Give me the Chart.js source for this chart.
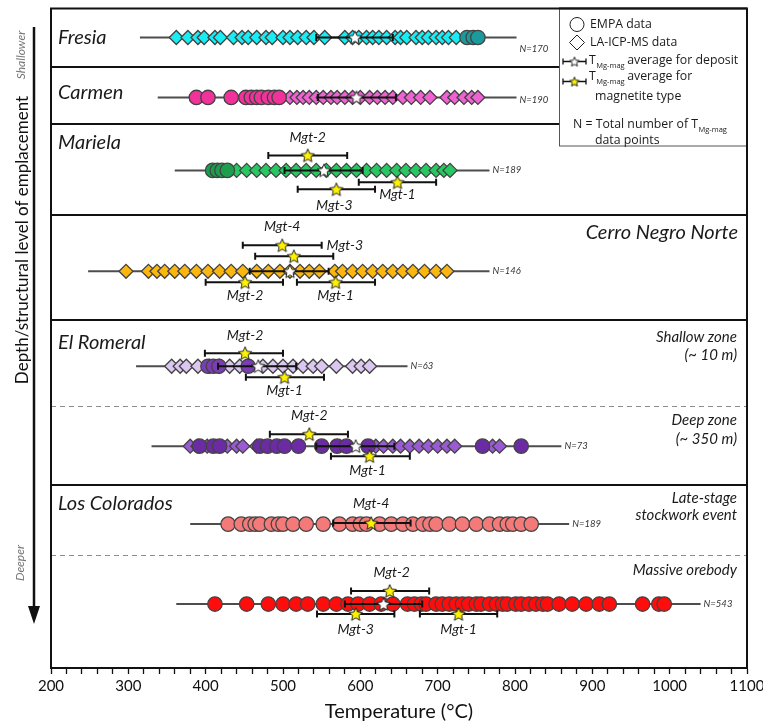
<!DOCTYPE html>
<html>
<head>
<meta charset="utf-8">
<script src="https://cdn.jsdelivr.net/npm/chart.js@4.4.0/dist/chart.umd.min.js"></script>
<style>
  body { margin: 0; background: #fff; }
  canvas { display: block; }
</style>
</head>
<body>
<canvas id="tempChart" width="763" height="725"></canvas>
<script>
// ---- data (temperatures in °C) ----
const tempTicks = [200, 300, 400, 500, 600, 700, 800, 900, 1000, 1100];

const fresiaEMPA = [738, 746, 752];
const fresiaLA = [362, 377, 390, 398, 412, 419, 436, 447, 455, 466, 478, 486, 500, 509, 519, 530, 540, 554, 580, 590, 598, 608, 616, 624, 634, 645, 652, 660, 672, 680, 688, 698, 706, 714, 724];
const fresiaRange = [315, 802];
const fresiaAvg = [593, 543, 642];
const fresiaN = 170;

const carmenEMPA = [388, 403, 433, 452, 459, 466, 472, 481, 489, 495];
const carmenLA = [509, 518, 526, 534, 543, 552, 562, 570, 580, 590, 600, 612, 622, 632, 642, 655, 666, 678, 690, 712, 722, 734, 744, 752];
const carmenRange = [338, 802];
const carmenAvg = [595, 545, 646];
const carmenN = 190;

const marielaEMPA = [409, 415, 421, 428];
const marielaLA = [440, 453, 466, 478, 491, 504, 517, 530, 543, 556, 569, 582, 595, 608, 621, 634, 647, 659, 672, 685, 698, 708, 716];
const marielaRange = [360, 767];
const marielaAvg = [553, 502, 603];
const marielaN = 189;
const marielaMgt = ['Mgt-2', 'Mgt-1', 'Mgt-3'];
const marielaMgtMean = [532, 648, 569];
const marielaMgtLow = [481, 598, 519];
const marielaMgtHigh = [583, 698, 619];

const cnnLA = [297, 326, 337, 347, 360, 373, 388, 403, 418, 433, 448, 466, 481, 496, 509, 522, 534, 547, 567, 577, 590, 603, 616, 629, 642, 655, 668, 683, 698, 712];
const cnnRange = [248, 767];
const cnnAvg = [509, 457, 559];
const cnnN = 146;
const cnnMgt = ['Mgt-4', 'Mgt-3', 'Mgt-2', 'Mgt-1'];
const cnnMgtMean = [499, 514, 451, 568];
const cnnMgtLow = [448, 464, 400, 518];
const cnnMgtHigh = [550, 565, 500, 619];

const romeralShallowEMPA = [403, 410, 417, 455];
const romeralShallowLA = [356, 367, 375, 390, 405, 418, 431, 444, 474, 487, 500, 513, 526, 539, 550, 569, 590, 601, 612];
const romeralShallowRange = [310, 661];
const romeralShallowAvg = [468, 416, 517];
const romeralShallowN = 63;
const romeralShallowMgt = ['Mgt-2', 'Mgt-1'];
const romeralShallowMgtMean = [451, 502];
const romeralShallowMgtLow = [399, 452];
const romeralShallowMgtHigh = [500, 553];

const romeralDeepEMPA = [392, 410, 418, 470, 480, 492, 502, 520, 550, 570, 582, 610, 758, 808];
const romeralDeepLA = [380, 390, 402, 428, 440, 448, 466, 620, 630, 642, 652, 664, 676, 688, 700, 712, 722, 771, 780];
const romeralDeepRange = [330, 860];
const romeralDeepAvg = [594, 543, 644];
const romeralDeepN = 73;
const romeralDeepMgt = ['Mgt-2', 'Mgt-1'];
const romeralDeepMgtMean = [534, 612];
const romeralDeepMgtLow = [483, 562];
const romeralDeepMgtHigh = [584, 664];

const coloradosLateEMPA = [429, 446, 457, 464, 470, 485, 494, 500, 513, 530, 552, 573, 590, 600, 608, 625, 640, 655, 668, 681, 690, 698, 715, 732, 750, 767, 780, 790, 797, 808, 821];
const coloradosLateRange = [380, 870];
const coloradosLateN = 189;
const coloradosLateMgt = ['Mgt-4'];
const coloradosLateMgtMean = [614];
const coloradosLateMgtLow = [565];
const coloradosLateMgtHigh = [665];

const coloradosMassiveEMPA = [412, 453, 481, 500, 517, 532, 552, 569, 584, 597, 612, 627, 642, 661, 670, 679, 685, 698, 706, 715, 724, 732, 740, 750, 756, 767, 776, 784, 790, 801, 808, 818, 827, 836, 842, 857, 874, 892, 909, 922, 965, 986, 993];
const coloradosMassiveRange = [362, 1040];
const coloradosMassiveAvg = [630, 580, 680];
const coloradosMassiveN = 543;
const coloradosMassiveMgt = ['Mgt-2', 'Mgt-3', 'Mgt-1'];
const coloradosMassiveMgtMean = [638, 594, 727];
const coloradosMassiveMgtLow = [588, 544, 677];
const coloradosMassiveMgtHigh = [689, 644, 777];

// ---- layout (vertical units: 0 = top of plot, 660 = axis) ----
const panelEdges = [59, 116, 207, 312, 477];
const zoneLines = [397.5, 547];

const rows = [
  { y: 29, empa: fresiaEMPA, la: fresiaLA, range: fresiaRange, avg: fresiaAvg, n: fresiaN, nDy: 11,
    empaColor: '#1b9a9c', laColor: '#19ecf2' },
  { y: 89, empa: carmenEMPA, la: carmenLA, range: carmenRange, avg: carmenAvg, n: carmenN, nDy: 3,
    empaColor: '#f0329a', laColor: '#ee62d2' },
  { y: 162, empa: marielaEMPA, la: marielaLA, range: marielaRange, avg: marielaAvg, n: marielaN, nDy: 0,
    empaColor: '#1c9e4f', laColor: '#27c862',
    mgt: marielaMgt, mgtMean: marielaMgtMean, mgtLow: marielaMgtLow, mgtHigh: marielaMgtHigh,
    starDy: [-15, 12, 19], labelDx: [0, 0, -2], labelDy: [-33, 24, 35] },
  { y: 263, empa: [], la: cnnLA, range: cnnRange, avg: cnnAvg, n: cnnN, nDy: 0,
    empaColor: '#fbb710', laColor: '#fbb710',
    mgt: cnnMgt, mgtMean: cnnMgtMean, mgtLow: cnnMgtLow, mgtHigh: cnnMgtHigh,
    starDy: [-26, -15, 11, 11], labelDx: [0, 51, 0, 0], labelDy: [-45, -26, 24, 24] },
  { y: 358, empa: romeralShallowEMPA, la: romeralShallowLA, range: romeralShallowRange, avg: romeralShallowAvg, n: romeralShallowN, nDy: 0,
    empaColor: '#7a3db2', laColor: '#dac8f0',
    mgt: romeralShallowMgt, mgtMean: romeralShallowMgtMean, mgtLow: romeralShallowMgtLow, mgtHigh: romeralShallowMgtHigh,
    starDy: [-13, 11], labelDx: [0, 0], labelDy: [-31, 24] },
  { y: 438, empa: romeralDeepEMPA, la: romeralDeepLA, range: romeralDeepRange, avg: romeralDeepAvg, n: romeralDeepN, nDy: 0,
    empaColor: '#6a2ba3', laColor: '#9a5ad2',
    mgt: romeralDeepMgt, mgtMean: romeralDeepMgtMean, mgtLow: romeralDeepMgtLow, mgtHigh: romeralDeepMgtHigh,
    starDy: [-12, 10], labelDx: [0, -2], labelDy: [-31, 24] },
  { y: 516, empa: coloradosLateEMPA, la: [], range: coloradosLateRange, avg: null, n: coloradosLateN, nDy: 0,
    empaColor: '#f47a7a', laColor: '#f47a7a',
    mgt: coloradosLateMgt, mgtMean: coloradosLateMgtMean, mgtLow: coloradosLateMgtLow, mgtHigh: coloradosLateMgtHigh,
    starDy: [-1], labelDx: [0], labelDy: [-21] },
  { y: 596, empa: coloradosMassiveEMPA, la: [], range: coloradosMassiveRange, avg: coloradosMassiveAvg, n: coloradosMassiveN, nDy: 0,
    empaColor: '#ff0d0d', laColor: '#ff0d0d',
    mgt: coloradosMassiveMgt, mgtMean: coloradosMassiveMgtMean, mgtLow: coloradosMassiveMgtLow, mgtHigh: coloradosMassiveMgtHigh,
    starDy: [-13, 10, 10], labelDx: [2, 0, 0], labelDy: [-32, 25, 25] }
];

const panelTitles = [
  { text: 'Fresia', y: 29, right: false },
  { text: 'Carmen', y: 84, right: false },
  { text: 'Mariela', y: 134, right: false },
  { text: 'Cerro Negro Norte', y: 224, right: true },
  { text: 'El Romeral', y: 334, right: false },
  { text: 'Los Colorados', y: 495, right: false }
];
const zoneTitles = [
  { text: 'Shallow zone', y: 329 }, { text: '(~ 10 m)', y: 347 },
  { text: 'Deep zone', y: 412 }, { text: '(~ 350 m)', y: 431 },
  { text: 'Late-stage', y: 490 }, { text: 'stockwork event', y: 507 },
  { text: 'Massive orebody', y: 562 }
];

// ---- marker images ----
function makeStar(fill, size) {
  const c = document.createElement('canvas');
  c.width = size; c.height = size;
  const g = c.getContext('2d');
  const cx = size / 2, cy = size / 2 + 0.6, R = size / 2 - 1, r = R * 0.46;
  g.beginPath();
  for (let i = 0; i < 10; i++) {
    const a = -Math.PI / 2 + i * Math.PI / 5;
    const rad = i % 2 ? r : R;
    g.lineTo(cx + rad * Math.cos(a), cy + rad * Math.sin(a));
  }
  g.closePath();
  g.fillStyle = fill; g.fill();
  g.lineWidth = 1; g.strokeStyle = '#222'; g.stroke();
  return c;
}
const whiteStar = makeStar('#ffffff', 16);
const yellowStar = makeStar('#fff200', 16);
const whiteStarSmall = makeStar('#ffffff', 12);
const yellowStarSmall = makeStar('#fff200', 12);

// ---- datasets ----
const datasets = [];
function errorBar(lo, hi, y) {
  return {
    type: 'line', data: [{ x: lo, y: y }, { x: hi, y: y }],
    borderColor: '#111', borderWidth: 2,
    pointStyle: 'line', pointRotation: 90, pointRadius: 3.5,
    pointBorderWidth: 2, pointBorderColor: '#111', order: 2
  };
}
rows.forEach(r => {
  datasets.push({
    type: 'line', data: r.range.map(v => ({ x: v, y: r.y })),
    borderColor: '#4d4d4d', borderWidth: 2, pointRadius: 0, order: 10
  });
  if (r.la.length) datasets.push({
    type: 'scatter', data: r.la.map(v => ({ x: v, y: r.y })),
    pointStyle: 'rectRot', pointRadius: 7, backgroundColor: r.laColor,
    borderColor: '#434343', borderWidth: 1.3, order: 8
  });
  if (r.empa.length) datasets.push({
    type: 'scatter', data: r.empa.map(v => ({ x: v, y: r.y })),
    pointStyle: 'circle', pointRadius: 7.2, backgroundColor: r.empaColor,
    borderColor: '#434343', borderWidth: 1.3, order: 7
  });
  if (r.avg) {
    datasets.push(errorBar(r.avg[1], r.avg[2], r.y));
    datasets.push({
      type: 'scatter', data: [{ x: r.avg[0], y: r.y }],
      pointStyle: whiteStar, pointRadius: 7, order: 0
    });
  }
  if (r.mgt) {
    r.mgt.forEach((name, i) => {
      datasets.push(errorBar(r.mgtLow[i], r.mgtHigh[i], r.y + r.starDy[i]));
    });
    datasets.push({
      type: 'scatter', data: r.mgtMean.map((v, i) => ({ x: v, y: r.y + r.starDy[i] })),
      pointStyle: yellowStar, pointRadius: 7, order: 0
    });
  }
});

// ---- decorations ----
const legendFont = '12.3px "Open Sans"';
function txt(ctx, s, x, y, font, align, color) {
  ctx.font = font;
  ctx.textAlign = align || 'left';
  ctx.textBaseline = 'middle';
  ctx.fillStyle = color || '#1a1a1a';
  ctx.fillText(s, x, y);
}
function tMgMag(ctx, x, y, rest) {
  txt(ctx, 'T', x, y, legendFont);
  const w = ctx.measureText('T').width;
  txt(ctx, 'Mg-mag', x + w + 0.5, y + 5, '7.5px "Open Sans"');
  const w2 = ctx.measureText('Mg-mag').width;
  if (rest) txt(ctx, rest, x + w + w2 + 3, y, legendFont);
}

const decorations = {
  id: 'decorations',
  beforeDatasetsDraw(chart) {
    const { ctx, chartArea: a, scales: { y } } = chart;
    ctx.save();
    ctx.strokeStyle = '#8c8c8c'; ctx.lineWidth = 1; ctx.setLineDash([5, 4]);
    zoneLines.forEach(v => {
      const py = Math.round(y.getPixelForValue(v)) + 0.5;
      ctx.beginPath(); ctx.moveTo(a.left, py); ctx.lineTo(a.right, py); ctx.stroke();
    });
    ctx.setLineDash([]);
    ctx.strokeStyle = '#111'; ctx.lineWidth = 2;
    panelEdges.forEach(v => {
      const py = Math.round(y.getPixelForValue(v));
      ctx.beginPath(); ctx.moveTo(a.left, py); ctx.lineTo(a.right, py); ctx.stroke();
    });
    ctx.strokeRect(a.left, a.top, a.right - a.left, a.bottom - a.top);
    ctx.restore();
  },
  afterDraw(chart) {
    const { ctx, chartArea: a, scales: { x, y } } = chart;
    ctx.save();
    // panel and zone titles
    panelTitles.forEach(p => {
      txt(ctx, p.text, p.right ? a.right - 9 : a.left + 7, y.getPixelForValue(p.y),
        'italic 20px Lato', p.right ? 'right' : 'left', '#1a1a1a');
    });
    zoneTitles.forEach(p => {
      txt(ctx, p.text, a.right - 10, y.getPixelForValue(p.y), 'italic 15px Lato', 'right', '#1a1a1a');
    });
    // N labels and magnetite type labels
    rows.forEach(r => {
      txt(ctx, 'N=' + r.n, x.getPixelForValue(r.range[1]) + 3, y.getPixelForValue(r.y + r.nDy),
        'italic 9.5px Lato', 'left', '#333');
      if (r.mgt) r.mgt.forEach((name, i) => {
        txt(ctx, name, x.getPixelForValue(r.mgtMean[i]) + r.labelDx[i], y.getPixelForValue(r.y + r.labelDy[i]),
          'italic 14px Lato', 'center', '#1a1a1a');
      });
    });

    // legend box
    const L = { left: a.right - 188, top: a.top, w: 188, h: 137 };
    ctx.fillStyle = '#fff';
    ctx.fillRect(L.left, L.top, L.w, L.h);
    ctx.strokeStyle = '#555'; ctx.lineWidth = 1;
    ctx.strokeRect(L.left + 0.5, L.top + 0.5, L.w, L.h);
    ctx.strokeStyle = '#111'; ctx.lineWidth = 2;
    ctx.beginPath(); ctx.moveTo(a.right, a.top); ctx.lineTo(a.right, L.top + L.h + 2); ctx.stroke();
    ctx.beginPath(); ctx.moveTo(L.left, a.top); ctx.lineTo(a.right, a.top); ctx.stroke();
    const mx = L.left + 18;
    ctx.strokeStyle = '#222'; ctx.lineWidth = 1;
    ctx.beginPath(); ctx.arc(mx, a.top + 16, 7, 0, Math.PI * 2); ctx.stroke();
    txt(ctx, 'EMPA data', L.left + 31, a.top + 16, legendFont);
    ctx.beginPath();
    ctx.moveTo(mx - 7.5, a.top + 34); ctx.lineTo(mx, a.top + 26.5);
    ctx.lineTo(mx + 7.5, a.top + 34); ctx.lineTo(mx, a.top + 41.5); ctx.closePath(); ctx.stroke();
    txt(ctx, 'LA-ICP-MS data', L.left + 31, a.top + 34, legendFont);
    [[a.top + 53, whiteStarSmall], [a.top + 73, yellowStarSmall]].forEach(([py, img]) => {
      ctx.strokeStyle = '#111'; ctx.lineWidth = 1.3;
      ctx.beginPath();
      ctx.moveTo(L.left + 4, py); ctx.lineTo(L.left + 27, py);
      ctx.moveTo(L.left + 4, py - 3); ctx.lineTo(L.left + 4, py + 3);
      ctx.moveTo(L.left + 27, py - 3); ctx.lineTo(L.left + 27, py + 3);
      ctx.stroke();
      ctx.drawImage(img, L.left + 15.5 - img.width / 2, py - img.height / 2);
    });
    tMgMag(ctx, L.left + 30, a.top + 52, 'average for deposit');
    tMgMag(ctx, L.left + 30, a.top + 68, 'average for');
    txt(ctx, 'magnetite type', L.left + 36, a.top + 88, legendFont);
    txt(ctx, 'N = Total number of ', L.left + 14, a.top + 116, legendFont);
    tMgMag(ctx, L.left + 14 + ctx.measureText('N = Total number of ').width, a.top + 116, '');
    txt(ctx, 'data points', L.left + 36, a.top + 132, legendFont);

    // vertical axis label with arrow
    ctx.strokeStyle = '#111'; ctx.lineWidth = 2.5;
    ctx.beginPath(); ctx.moveTo(34, 27); ctx.lineTo(34, 610); ctx.stroke();
    ctx.fillStyle = '#111';
    ctx.beginPath(); ctx.moveTo(28, 606); ctx.lineTo(40, 606); ctx.lineTo(34, 624); ctx.closePath(); ctx.fill();
    ctx.save();
    ctx.translate(23, 240); ctx.rotate(-Math.PI / 2);
    txt(ctx, 'Depth/structural level of emplacement', 0, 0, '17px Lato', 'center', '#111');
    ctx.restore();
    ctx.save();
    ctx.translate(21, 55); ctx.rotate(-Math.PI / 2);
    txt(ctx, 'Shallower', 0, 0, 'italic 12px Lato', 'center', '#777');
    ctx.restore();
    ctx.save();
    ctx.translate(20, 563); ctx.rotate(-Math.PI / 2);
    txt(ctx, 'Deeper', 0, 0, 'italic 12px Lato', 'center', '#777');
    ctx.restore();
    ctx.restore();
  }
};

new Chart(document.getElementById('tempChart'), {
  type: 'scatter',
  data: { datasets: datasets },
  options: {
    responsive: false,
    animation: false,
    events: [],
    layout: { padding: { left: 51, right: 16, top: 8, bottom: 0 } },
    scales: {
      x: {
        type: 'linear', min: 200, max: 1100,
        afterFit(s) { s.height = 57; s.paddingLeft = 0; s.paddingRight = 0; },
        border: { display: true, color: '#111', width: 2 },
        grid: { drawOnChartArea: false, drawTicks: true, tickLength: 6, tickColor: '#111', tickWidth: 1.3 },
        ticks: {
          stepSize: 20, autoSkip: false, maxRotation: 0, padding: 3, color: '#111',
          font: { family: 'Lato', size: 15 },
          callback: v => tempTicks.includes(v) ? String(v) : ''
        },
        title: {
          display: true, text: 'Temperature (°C)', color: '#111',
          font: { family: 'Lato', size: 20 }, padding: { top: 0, bottom: 1 }
        }
      },
      y: { type: 'linear', min: 0, max: 660, reverse: true, display: false }
    },
    plugins: { legend: { display: false }, tooltip: { enabled: false } }
  },
  plugins: [decorations]
});
</script>
</body>
</html>
